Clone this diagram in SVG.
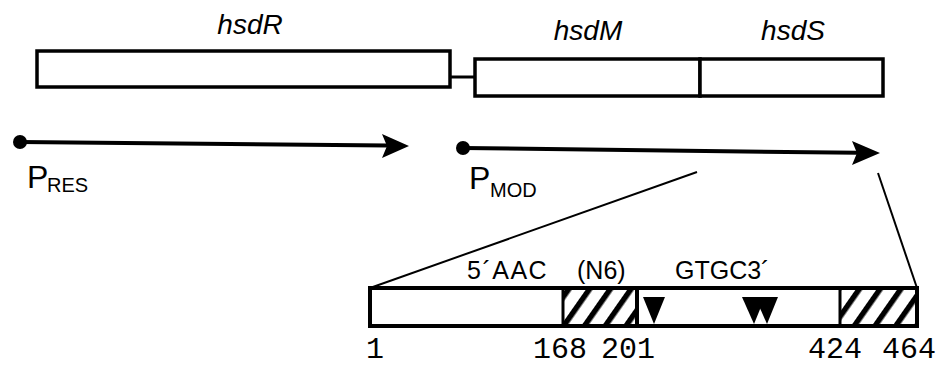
<svg xmlns="http://www.w3.org/2000/svg" width="942" height="368" viewBox="0 0 942 368">
<style>
.box{fill:#fff;stroke:#000;stroke-width:3.5}
.gene{font-family:"Liberation Sans",Arial,sans-serif;font-style:italic;font-size:28px;fill:#000}
.lbl{font-family:"Liberation Sans",Arial,sans-serif;font-size:25px;fill:#000}
.p{font-family:"Liberation Sans",Arial,sans-serif;font-size:32px;fill:#000}
.sub{font-family:"Liberation Sans",Arial,sans-serif;font-size:20px;fill:#000}
.num{font-family:"Liberation Mono","Courier New",monospace;font-size:30px;fill:#000}
.line{stroke:#000;fill:none}
.tri{fill:#000}
</style>
<defs>
<pattern id="hatch" patternUnits="userSpaceOnUse" width="17" height="17" patternTransform="rotate(35)">
<rect width="17" height="17" fill="#fff"/>
<rect x="0" y="0" width="5.5" height="17" fill="#000"/>
</pattern>
</defs>

<g id="hsdR">
<rect class="box" x="37" y="51" width="413" height="36"/>
<text class="gene" x="250" y="34" text-anchor="middle">hsdR</text>
</g>

<g id="hsdM">
<rect class="box" x="475" y="59" width="225" height="37"/>
<text class="gene" x="588" y="40" text-anchor="middle">hsdM</text>
</g>

<g id="hsdS">
<rect class="box" x="700" y="59" width="183" height="37"/>
<text class="gene" x="793" y="40" text-anchor="middle">hsdS</text>
</g>

<g id="PRES">
<circle cx="20" cy="142" r="7"/>
<text class="p" x="27" y="188">P</text>
<text class="sub" x="47" y="192">RES</text>
</g>

<g id="PMOD">
<circle cx="463" cy="148" r="7"/>
<text class="p" x="469" y="189">P</text>
<text class="sub" x="490" y="197">MOD</text>
</g>

<g id="hsdS-detail">
<rect x="370" y="288" width="547" height="38" fill="#fff"/>
<rect x="563" y="288" width="74" height="38" fill="url(#hatch)"/>
<rect x="840" y="288" width="77" height="38" fill="url(#hatch)"/>
<rect x="370" y="288" width="547" height="38" style="fill:none;stroke:#000;stroke-width:4"/>
<line class="line" x1="563" y1="288" x2="563" y2="326" stroke-width="3"/>
<line class="line" x1="637" y1="288" x2="637" y2="326" stroke-width="4"/>
<line class="line" x1="840" y1="288" x2="840" y2="326" stroke-width="3"/>
<polygon class="tri" points="643,297 665,297 654,324"/>
<polygon class="tri" points="742,297 765,297 754,324"/>
<polygon class="tri" points="755,297 778,297 767,324"/>
<text class="lbl" x="467" y="279" letter-spacing="1.5">5´AAC</text>
<text class="lbl" x="577" y="279">(N6)</text>
<text class="lbl" x="675" y="279">GTGC3´</text>
<text class="num" x="366" y="358">1</text>
<text class="num" x="533" y="358">168</text>
<text class="num" x="601" y="358">201</text>
<text class="num" x="808" y="358">424</text>
<text class="num" x="882" y="358">464</text>
</g>

<g id="connectors">
<line class="line" x1="450" y1="77" x2="475" y2="77" stroke-width="3"/>
<line class="line" x1="20" y1="142" x2="388" y2="145.5" stroke-width="4"/>
<polygon points="382,134 409,146 382,158 387,146"/>
<line class="line" x1="463" y1="148" x2="858" y2="152.8" stroke-width="4"/>
<polygon points="852,141 880,153 852,165 857,153"/>
<line class="line" x1="697" y1="172" x2="370" y2="288" stroke-width="2"/>
<line class="line" x1="878" y1="173" x2="917" y2="288" stroke-width="2"/>
</g>
</svg>
